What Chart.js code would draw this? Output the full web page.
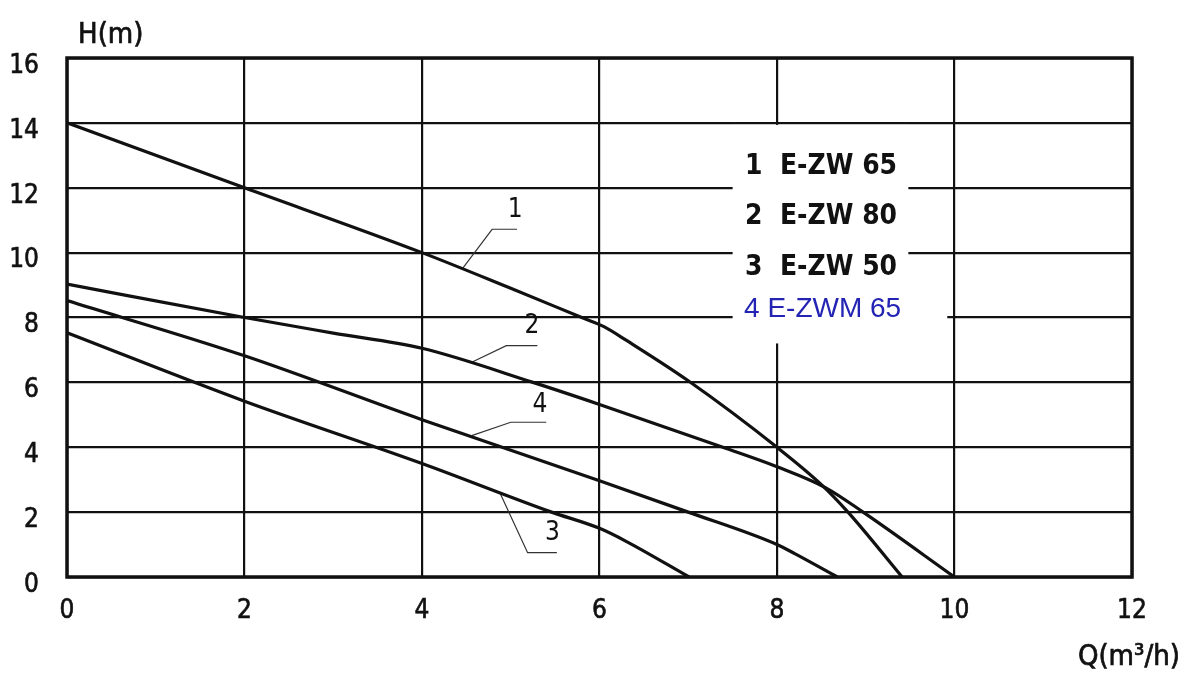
<!DOCTYPE html>
<html>
<head>
<meta charset="utf-8">
<script src="https://cdn.jsdelivr.net/npm/chart.js@4.4.1/dist/chart.umd.min.js"></script>
<style>
  html, body { margin: 0; background: #fff; }
  #wrap { width: 1185px; height: 675px; }
</style>
</head>
<body>
<div id="wrap"><canvas id="c"></canvas></div>
<script>
// Q (m3/h) -> H (m)
const q1 = [0, 2, 4, 5, 5.8, 6.05, 6.3, 7, 8, 8.5, 8.8, 9.41];
const h1 = [14, 12, 10, 8.9, 8.0, 7.72, 7.3, 6.05, 4.0, 2.85, 2.0, 0];
const q2 = [0, 2, 3, 4, 5.25, 6, 7.39, 8, 8.55, 8.97, 10];
const h2 = [9.03, 8.0, 7.52, 7.05, 6.0, 5.32, 4.0, 3.4, 2.75, 2.0, 0];
const q3 = [0, 2, 4, 5.46, 6, 6.3, 7.01];
const h3 = [7.53, 5.42, 3.5, 2.0, 1.5, 1.1, 0];
const q4 = [0, 2, 4, 6, 7, 8, 8.2, 8.68];
const h4 = [8.52, 6.82, 4.85, 2.97, 2.0, 1.0, 0.72, 0];

const seriesNames = ['1 E-ZW 65', '2 E-ZW 80', '3 E-ZW 50', '4 E-ZWM 65'];
const curveTags = ['1', '2', '3', '4'];

// leader lines from each curve to its number
const leadQ = [[4.46, 4.79, 5.07], [4.56, 4.95, 5.30], [4.88, 5.19, 5.52], [4.56, 5.0, 5.40]];
const leadH = [[9.52, 10.72, 10.72], [6.62, 7.13, 7.13], [2.58, 0.75, 0.75], [4.36, 4.77, 4.77]];
const tagQ = [5.05, 5.24, 5.47, 5.33];
const tagH = [11.31, 7.72, 1.35, 5.30];

const xTicks = [0, 2, 4, 6, 8, 10, 12];
const yTicks = [0, 2, 4, 6, 8, 10, 12, 14, 16];

const pts = (xs, ys) => xs.map((v, i) => ({ x: v, y: ys[i] }));
const FONT = '"DejaVu Sans Condensed", "DejaVu Sans", sans-serif';

const curves = [[q1, h1], [q2, h2], [q3, h3], [q4, h4]].map(([a, b], i) => ({
  label: seriesNames[i],
  data: pts(a, b),
  borderColor: '#111',
  borderWidth: 3.2,
  pointRadius: 0,
  cubicInterpolationMode: 'monotone',
  fill: false
}));
const leaders = leadQ.map((a, i) => ({
  label: 'leader ' + curveTags[i],
  data: pts(a, leadH[i]),
  borderColor: '#333',
  borderWidth: 1.2,
  pointRadius: 0,
  tension: 0,
  fill: false
}));

const paper = {
  id: 'paper',
  beforeDatasetsDraw(chart) {
    const { ctx, scales: { x, y } } = chart;
    ctx.save();
    ctx.fillStyle = '#fff';
    // blank patch behind the legend
    const l = x.getPixelForValue(7.5), r = x.getPixelForValue(9.48);
    const t = y.getPixelForValue(14) + 2, b = y.getPixelForValue(7.2);
    ctx.fillRect(l, t, r - l, b - t);
    const t2 = y.getPixelForValue(8.5), b2 = y.getPixelForValue(7.5);
    ctx.fillRect(r - 1, t2, x.getPixelForValue(9.93) - r, b2 - t2);
    ctx.restore();
  },
  afterDraw(chart) {
    const { ctx, chartArea: a, scales: { x, y } } = chart;
    ctx.save();
    // frame
    ctx.strokeStyle = '#111';
    ctx.lineWidth = 3.5;
    ctx.strokeRect(a.left, a.top, a.right - a.left, a.bottom - a.top);

    ctx.fillStyle = '#111';
    ctx.strokeStyle = '#111';
    ctx.lineWidth = 0.7;
    ctx.textBaseline = 'middle';
    // axis titles
    ctx.font = '29px ' + FONT;
    ctx.textAlign = 'left';
    ctx.fillText('H(m)', a.left + 11, 35);
    ctx.strokeText('H(m)', a.left + 11, 35);
    ctx.textAlign = 'right';
    ctx.fillText('Q(m\u00b3/h)', 1180, 657);
    ctx.strokeText('Q(m\u00b3/h)', 1180, 657);

    // curve numbers
    ctx.textAlign = 'center';
    ctx.font = '26px ' + FONT;
    curveTags.forEach((s, i) => {
      ctx.fillText(s, x.getPixelForValue(tagQ[i]), y.getPixelForValue(tagH[i]));
    });

    // legend
    const lx = x.getPixelForValue(7.64);
    const rowH = [12.65, 11.1, 9.55, 8.25];
    ctx.textAlign = 'left';
    seriesNames.forEach((s, i) => {
      if (i < 3) {
        ctx.font = 'bold 29px ' + FONT;
        ctx.fillStyle = '#111';
        ctx.fillText(s.replace(' ', '  '), lx, y.getPixelForValue(rowH[i]), 152);
      } else {
        ctx.font = '28px "Liberation Sans", Arial, sans-serif';
        ctx.fillStyle = '#2424b4';
        ctx.fillText(s, lx - 1, y.getPixelForValue(rowH[i]), 158);
      }
    });
    ctx.restore();
  }
};

new Chart(document.getElementById('c'), {
  type: 'line',
  data: { datasets: curves.concat(leaders) },
  plugins: [paper],
  options: {
    responsive: true,
    maintainAspectRatio: false,
    animation: false,
    layout: { padding: { top: 58, right: 53, left: 0, bottom: 0 } },
    plugins: { legend: { display: false }, tooltip: { enabled: false } },
    scales: {
      x: {
        type: 'linear',
        min: xTicks[0],
        max: xTicks[xTicks.length - 1],
        afterBuildTicks: s => { s.ticks = xTicks.map(v => ({ value: v })); },
        afterFit: s => { s.height = 98; },
        grid: { color: '#111', lineWidth: 2.2, drawTicks: false },
        border: { display: false },
        ticks: { color: '#111', padding: 19, textStrokeColor: '#111', textStrokeWidth: 0.6,
                 font: { family: FONT, size: 26 } }
      },
      y: {
        type: 'linear',
        min: yTicks[0],
        max: yTicks[yTicks.length - 1],
        afterBuildTicks: s => { s.ticks = yTicks.map(v => ({ value: v })); },
        afterFit: s => { s.width = 67; },
        grid: { color: '#111', lineWidth: 2.2, drawTicks: false },
        border: { display: false },
        ticks: { color: '#111', padding: 28, labelOffset: 8, textStrokeColor: '#111', textStrokeWidth: 0.6,
                 font: { family: FONT, size: 26 } }
      }
    }
  }
});
</script>
</body>
</html>
